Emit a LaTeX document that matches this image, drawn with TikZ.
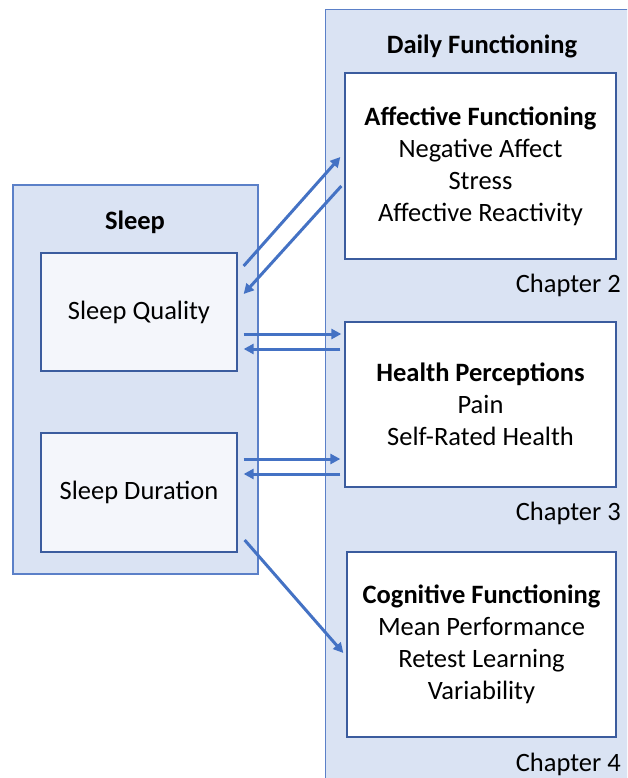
\documentclass[tikz,border=0pt]{standalone}
\usepackage{fontspec}
\setmainfont{Carlito}
\usetikzlibrary{arrows.meta,calc}

\definecolor{grpfill}{HTML}{DAE3F3}
\definecolor{grpline}{HTML}{5B80C8}
\definecolor{boxline}{HTML}{3B5C9E}
\definecolor{sleepfill}{HTML}{F4F6FB}
\definecolor{arrblue}{HTML}{4472C4}

\begin{document}
\begin{tikzpicture}[x=1pt, y=-1pt,
    every node/.style={font=\fontsize{26.5}{32}\selectfont, text=black},
    grp/.style={draw=grpline, fill=grpfill, line width=1.3pt, inner sep=0pt},
    sleepbox/.style={draw=boxline, fill=sleepfill, line width=1.3pt,
                     minimum width=196pt, minimum height=118pt},
    dfbox/.style={draw=boxline, fill=white, line width=1.3pt,
                  minimum width=271pt, align=center},
    ttl/.style={font=\fontsize{26.5}{32}\selectfont\bfseries},
    chap/.style={anchor=east, inner sep=0pt},
    e/.style={-{Triangle[length=10pt, width=10pt]}, draw=arrblue, line width=3pt},
  ]
  \useasboundingbox (0,0) rectangle (627,778);
  \clip (0,0) rectangle (627,778);

  \node[grp, minimum width=245pt, minimum height=389pt] (sleep) at (135.5,379.5) {};
  \node[grp, anchor=north west, minimum width=320pt, minimum height=790pt] (daily) at (325,9) {};

  \node[ttl] (sleepttl) at (135,222) {Sleep};
  \node[ttl] (dailyttl) at (482,46) {Daily Functioning};

  \node[sleepbox] (quality) at (139,312) {Sleep Quality};
  \node[sleepbox, minimum height=119pt] (duration) at (139,492.5) {Sleep Duration};

  \node[dfbox, minimum height=186pt] (affect) at (480.5,166)
    {\textbf{Affective Functioning}\\Negative Affect\\Stress\\Affective Reactivity};
  \node[dfbox, minimum height=165pt] (health) at (480.5,404.5)
    {\textbf{Health Perceptions}\\Pain\\Self-Rated Health};
  \node[dfbox, minimum width=269pt, minimum height=185pt] (cognitive) at (481.5,644.5)
    {\textbf{Cognitive Functioning}\\Mean Performance\\Retest Learning\\Variability};

  \node[chap] (ch2) at (621,285) {Chapter 2};
  \node[chap] (ch3) at (621,513) {Chapter 3};
  \node[chap] (ch4) at (621,764) {Chapter 4};

  \draw[e] ($(quality.east)+(6,-46)$) -- ($(affect.west)+(-4,-9)$);
  \draw[e] ($(affect.west)+(-3,20)$) -- ($(quality.east)+(6,-18)$);
  \draw[e] ($(quality.east)+(6,22)$) -- ($(health.west)+(-3,-70.5)$);
  \draw[e] ($(health.west)+(-4,-55.5)$) -- ($(quality.east)+(6,37)$);
  \draw[e] ($(duration.east)+(6,-33.5)$) -- ($(health.west)+(-4,54.5)$);
  \draw[e] ($(health.west)+(-4,69.5)$) -- ($(duration.east)+(6,-18.5)$);
  \draw[e] ($(duration.east)+(7,47.5)$) -- ($(cognitive.west)+(-3,8.5)$);
\end{tikzpicture}
\end{document}
